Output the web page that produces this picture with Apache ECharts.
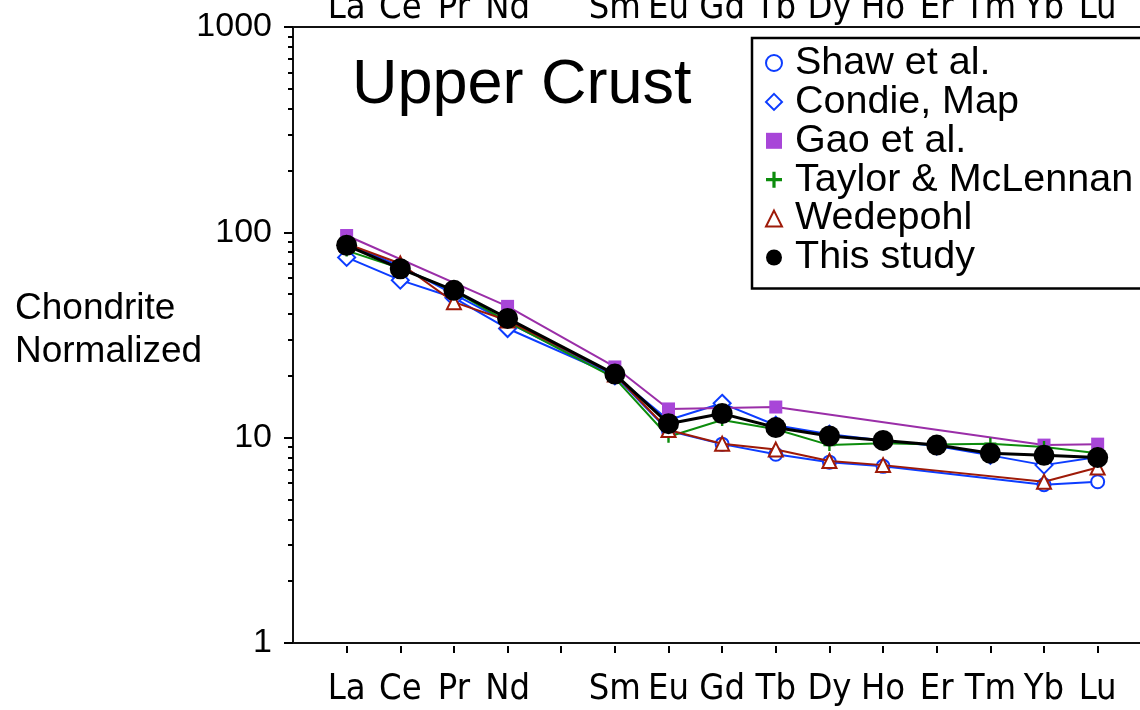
<!DOCTYPE html>
<html><head><meta charset="utf-8">
<script src="https://cdn.jsdelivr.net/npm/echarts@6/dist/echarts.min.js"></script>
<style>html,body{margin:0;padding:0;background:#fff}#c{width:1140px;height:710px}</style>
</head><body><div id="c"></div>
<script>
// ---- data ----
const elements = ['La','Ce','Pr','Nd','Pm','Sm','Eu','Gd','Tb','Dy','Ho','Er','Tm','Yb','Lu'];
const shownElements = ['La','Ce','Pr','Nd','Sm','Eu','Gd','Tb','Dy','Ho','Er','Tm','Yb','Lu'];
const yMajorTicks = [1, 10, 100, 1000];
const yMinorTicks = [2,3,4,5,6,7,8,9,20,30,40,50,60,70,80,90,200,300,400,500,600,700,800,900];
const seriesNames = ['Shaw et al.', 'Condie, Map', 'Gao et al.', 'Taylor & McLennan', 'Wedepohl', 'This study'];
//                 La    Ce    Pr    Nd   Pm    Sm    Eu    Gd    Tb    Dy    Ho    Er    Tm    Yb    Lu
const shaw      = [88,   68.5, null, 36.4, null, 20.0, 10.8, 9.3,  8.3,  7.6,  7.25, null, null, 5.9,  6.1];
const condie    = [75.5, 58.5, 48,   34.0, null, 20.0, 12.2, 14.7, 11.5, 10.4, 9.7,  9.1,  8.2,  7.35, 8.05];
const gao       = [96.5, null, null, 43.6, null, 22.1, 13.8, null, 14.1, null, null, null, null, 9.2,  9.3];
const taylor    = [81.5, 66.9, 51.8, 36.6, null, 19.5, 10.1, 12.2, 11.0, 9.2,  9.4,  9.25, 9.35, 9.0,  8.4];
const wedepohl  = [88,   70.5, 45.7, 37.2, null, 20.3, 10.9, 9.35, 8.75, 7.7,  7.35, null, null, 6.1,  7.15];
const thisStudy = [86.5, 66.5, 52.2, 38.1, null, 20.4, 11.7, 13.1, 11.2, 10.2, 9.7,  9.2,  8.4,  8.2,  8.0];

// ---- font choice for the narrow element labels ----
function fontAvailable(name) {
  const ctx = document.createElement('canvas').getContext('2d');
  const t = 'La Ce Pr Nd SmEu Gd Tb';
  ctx.font = '40px monospace'; const a = ctx.measureText(t).width;
  ctx.font = '40px "' + name + '", monospace'; const b = ctx.measureText(t).width;
  return Math.abs(a - b) > 0.5;
}
const narrowCandidates = ['Liberation Sans Narrow', 'Arial Narrow', 'DejaVu Sans Condensed', 'Roboto Condensed'];
let elFont = 'Liberation Sans';
for (const f of narrowCandidates) { if (fontAvailable(f)) { elFont = f; break; } }
const mctx = document.createElement('canvas').getContext('2d');
mctx.font = '36px "' + elFont + '", Arial, sans-serif';
const smW = mctx.measureText('Sm').width;
const elFontSize = Math.round(36 * Math.min(1, 53 / smW) * 10) / 10;
const elFontFamily = '"' + elFont + '", "Liberation Sans", Arial, sans-serif';

const BASE_FONT = '"Liberation Sans", Arial, Helvetica, sans-serif';
const blue = '#0c3cff', purpleLine = '#9a2ea8', purpleMark = '#a846d8', green = '#0c8c0c', red = '#9e1a08';
const plusPath = 'path://M4,0H6V4H10V6H6V10H4V6H0V4H4Z';

function toPoints(vals) {
  return vals.map((v, i) => v == null ? null : [i + 1, v]).filter(p => p);
}
const xOfShown = shownElements.map(e => elements.indexOf(e) + 1);
const xTickValues = elements.map((e, i) => i + 1);

const styles = [
  { symbol: 'emptyCircle', symbolSize: 13, color: blue, lineColor: blue, lw: 2, bw: 2 },
  { symbol: 'emptyDiamond', symbolSize: 17, color: blue, lineColor: blue, lw: 2, bw: 2 },
  { symbol: 'rect', symbolSize: 13, color: purpleMark, lineColor: purpleLine, lw: 2, bw: 0 },
  { symbol: plusPath, symbolSize: 12, color: green, lineColor: green, lw: 2, bw: 0 },
  { symbol: 'emptyTriangle', symbolSize: 14, color: red, lineColor: red, lw: 2, bw: 2 },
  { symbol: 'circle', symbolSize: 21, color: '#000', lineColor: '#000', lw: 3, bw: 0 }
];
const allData = [shaw, condie, gao, taylor, wedepohl, thisStudy];
const legendIcons = ['emptyCircle', 'emptyDiamond', 'rect', plusPath, 'emptyTriangle', 'circle'];

const series = allData.map((vals, k) => ({
  name: seriesNames[k],
  type: 'line',
  data: toPoints(vals),
  symbol: styles[k].symbol,
  symbolSize: styles[k].symbolSize,
  showAllSymbol: true,
  lineStyle: { color: styles[k].lineColor, width: styles[k].lw },
  itemStyle: { color: styles[k].color, borderColor: styles[k].color, borderWidth: styles[k].bw },
  emphasis: { disabled: true },
  z: 2 + k
}));

const chart = echarts.init(document.getElementById('c'), null, { renderer: 'canvas' });
chart.setOption({
  animation: false,
  backgroundColor: '#fff',
  textStyle: { fontFamily: BASE_FONT },
  title: [
    { text: 'Upper Crust', left: 352, top: 54, padding: 0,
      textStyle: { fontSize: 63, fontWeight: 'normal', color: '#000', fontFamily: BASE_FONT } },
    { text: 'Chondrite\nNormalized', left: 15, top: 287, padding: 0,
      textStyle: { fontSize: 37, lineHeight: 43, fontWeight: 'normal', color: '#000', fontFamily: BASE_FONT } }
  ],
  legend: {
    orient: 'vertical', left: 752, top: 38,
    padding: [5, 24, 11, 13],
    itemGap: -1.1, itemWidth: 16, itemHeight: 16,
    borderColor: '#000', borderWidth: 2.5, backgroundColor: '#fff',
    selectedMode: false,
    textStyle: { fontSize: 39.5, lineHeight: 38.7, color: '#000', fontFamily: BASE_FONT, padding: [0, 0, 0, 8] },
    data: seriesNames.map((n, k) => ({ name: n, icon: legendIcons[k],
      itemStyle: { color: styles[k].color, borderWidth: 0 } }))
  },
  grid: {
    left: 293, top: 27, width: 858.3, height: 616,
    show: true, borderColor: '#111', borderWidth: 2,
    outerBoundsMode: 'none', containLabel: false
  },
  xAxis: [
    { type: 'value', position: 'bottom', min: 0, max: 16, offset: 3,
      axisLine: { show: false }, splitLine: { show: false },
      axisTick: { show: true, length: 7, customValues: xTickValues, lineStyle: { color: '#000', width: 2 } },
      axisLabel: { customValues: xOfShown, formatter: v => elements[v - 1], margin: 26,
        fontSize: elFontSize, fontFamily: elFontFamily, color: '#000' } },
    { type: 'value', position: 'top', min: 0, max: 16,
      axisLine: { show: false }, splitLine: { show: false }, axisTick: { show: false },
      axisLabel: { customValues: xOfShown, formatter: v => elements[v - 1], margin: 0,
        fontSize: elFontSize, fontFamily: elFontFamily, color: '#000' } }
  ],
  yAxis: [
    { type: 'log', logBase: 10, min: 1, max: 1000, position: 'left',
      axisLine: { show: false }, splitLine: { show: false }, minorTick: { show: false },
      axisTick: { show: true, length: 9, customValues: yMajorTicks, lineStyle: { color: '#000', width: 2 } },
      axisLabel: { customValues: yMajorTicks, formatter: v => String(Math.round(v)), margin: 21,
        fontSize: 34, color: '#000', fontFamily: BASE_FONT } },
    { type: 'log', logBase: 10, min: 1, max: 1000, position: 'left',
      axisLine: { show: false }, splitLine: { show: false }, axisLabel: { show: false },
      axisTick: { show: true, length: 5, customValues: yMinorTicks, lineStyle: { color: '#000', width: 2 } } }
  ],
  series: series
});
</script>
</body></html>
